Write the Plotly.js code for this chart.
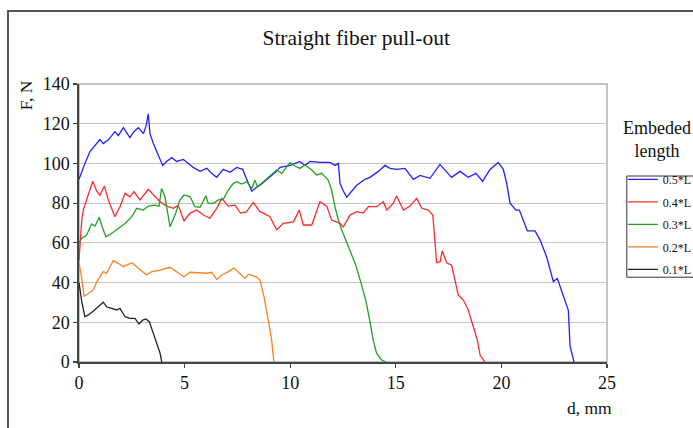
<!DOCTYPE html>
<html>
<head>
<meta charset="utf-8">
<script src="https://cdn.plot.ly/plotly-3.0.1.min.js"></script>
<style>html,body{margin:0;padding:0;background:#fff;}#chart{width:693px;height:428px;}</style>
</head>
<body>
<div id="chart"></div>
<script>
// Data (d in mm, F in N)
const seriesNames = ["0.5*L", "0.4*L", "0.3*L", "0.2*L", "0.1*L"];

const blueX = [0, 0.1, 0.28, 0.52, 0.75, 0.99, 1.15, 1.4, 1.7, 1.86, 2.1, 2.41, 2.6, 2.81, 3.05, 3.18, 3.28, 3.36, 3.52, 3.75, 3.96, 4.15, 4.39, 4.62, 4.94, 5.18, 5.41, 5.73, 6.05, 6.28, 6.52, 6.83, 7.15, 7.47, 7.75, 7.94, 8.18, 8.41, 8.57, 8.8, 9.04, 9.3, 9.52, 10, 10.46, 10.7, 10.94, 11.41, 11.88, 12.12, 12.28, 12.36, 12.52, 12.68, 12.83, 13.15, 13.54, 13.78, 14.17, 14.49, 14.73, 15.04, 15.44, 15.83, 16.15, 16.62, 17.09, 17.64, 18.04, 18.43, 18.8, 19.11, 19.46, 19.85, 20.09, 20.25, 20.41, 20.69, 20.85, 21.23, 21.59, 21.83, 22.14, 22.46, 22.65, 22.93, 23.17, 23.25, 23.44];
const blueF = [92, 95, 100, 106, 109, 112, 110, 112, 116, 114, 118, 113, 116, 118, 115, 119, 125, 115, 110, 104, 99, 101, 103, 101, 102, 100, 98, 96, 97.5, 95, 93, 97, 95.5, 98, 97, 92, 86, 88, 89, 91, 93, 95.5, 98, 99, 101, 99, 101, 100.5, 100.5, 99, 100, 90, 86, 83, 85, 89, 92, 93, 96, 99, 97.5, 97, 97.5, 92, 94, 92.5, 99.5, 93, 96, 93, 95, 91, 97, 100.5, 97, 90, 80, 76.5, 76.5, 66, 66, 61.5, 53, 40.5, 42, 33, 26, 8, 0];

const redX = [0, 0.05, 0.13, 0.2, 0.36, 0.44, 0.65, 0.84, 0.99, 1.2, 1.39, 1.7, 1.94, 2.18, 2.41, 2.6, 2.89, 3.28, 3.6, 3.84, 4.15, 4.47, 4.7, 4.97, 5.26, 5.57, 5.89, 6.2, 6.52, 6.76, 7.07, 7.39, 7.65, 7.94, 8.25, 8.57, 8.73, 9.04, 9.36, 9.67, 10.15, 10.43, 10.62, 11.02, 11.41, 11.73, 11.96, 12.36, 12.51, 12.83, 13.15, 13.46, 13.7, 14.09, 14.41, 14.57, 14.88, 15.04, 15.36, 15.67, 15.99, 16.23, 16.54, 16.75, 16.86, 16.93, 17.1, 17.2, 17.41, 17.64, 17.96, 18.2, 18.43, 18.67, 18.86, 18.99, 19.22];
const redF = [51, 60, 71.5, 76.5, 82, 85, 91, 86, 84, 88.6, 81.6, 73.2, 78.2, 85, 83.2, 85.8, 81.6, 87, 83.2, 80.7, 78.5, 77.4, 79, 71, 75, 76.5, 74, 72.4, 77.4, 82.4, 78.5, 79, 75, 75.7, 80.4, 75.7, 75, 73.2, 66.5, 69.8, 70.6, 76.5, 69, 69, 80.7, 78.5, 71.5, 69.8, 68, 74, 75.7, 75, 78.2, 78.2, 80.7, 76.5, 80, 83.6, 76.5, 78.5, 82.4, 77.4, 76.5, 74, 60, 50, 50.5, 56, 50, 48.8, 33.7, 31.2, 26.2, 17.8, 11.1, 3.5, 0];

const greenX = [0, 0.13, 0.36, 0.6, 0.76, 0.96, 1.12, 1.28, 1.55, 1.86, 2.18, 2.5, 2.73, 3.05, 3.28, 3.6, 3.79, 3.91, 4.07, 4.31, 4.55, 4.78, 4.97, 5.26, 5.49, 5.73, 6.01, 6.12, 6.36, 6.6, 6.83, 7.07, 7.31, 7.47, 7.7, 7.94, 8.18, 8.33, 8.45, 8.73, 9.04, 9.36, 9.6, 9.99, 10.23, 10.46, 10.7, 11.02, 11.25, 11.49, 11.8, 11.96, 12.12, 12.28, 12.44, 12.68, 12.91, 13.1, 13.35, 13.6, 13.8, 13.93, 14.09, 14.33, 14.54];
const greenF = [60, 62.3, 63.9, 69.5, 68.5, 72.9, 67.3, 63.1, 64.8, 67.3, 69.8, 73.2, 77.4, 76.5, 78.5, 79, 78.5, 87.4, 83.2, 68.1, 74, 81.6, 84.1, 83.2, 78.2, 77.9, 83.7, 79.9, 79.9, 81.6, 81.9, 86.6, 90, 90.8, 89.6, 90.8, 87.4, 91.6, 88.3, 90.8, 93.7, 96.7, 95, 100.4, 98.7, 97.5, 99.2, 96.7, 94.2, 95, 91.6, 86.6, 78.2, 71.5, 66.5, 59.8, 53.9, 49, 40, 30, 19, 11, 4.4, 1, 0];

const orangeX = [0, 0.08, 0.13, 0.24, 0.44, 0.68, 0.84, 1.15, 1.31, 1.62, 1.86, 2.1, 2.26, 2.52, 2.81, 3.2, 3.44, 3.84, 4.31, 4.63, 4.97, 5.26, 5.73, 6.05, 6.28, 6.52, 6.76, 6.99, 7.34, 7.62, 7.86, 8.02, 8.41, 8.57, 8.76, 8.96, 9.12, 9.23];
const orangeF = [50, 45.5, 42, 33, 34.6, 36.3, 40.4, 45.5, 44.7, 51, 49.7, 48, 48.8, 50, 47.2, 43.8, 45.5, 46.3, 47.7, 45.5, 42.9, 45.2, 45, 44.7, 45.2, 41.6, 43.8, 45, 47.3, 44.7, 42.1, 44.2, 42.9, 41.3, 32.9, 21.1, 11.1, 0];

const blackX = [0, 0.05, 0.13, 0.28, 0.44, 0.68, 0.91, 1.15, 1.31, 1.55, 1.78, 1.94, 2.18, 2.41, 2.65, 2.84, 3.02, 3.17, 3.33, 3.49, 3.68, 3.84, 3.92];
const blackF = [40, 36, 30.4, 22.8, 23.7, 25.7, 27.8, 30.1, 27.8, 27, 26.2, 27, 22.8, 22, 22, 19.1, 21.1, 21.7, 20.3, 15.3, 9.4, 4.4, 0];

const xs = [blueX, redX, greenX, orangeX, blackX];
const ys = [blueF, redF, greenF, orangeF, blackF];
const colors = ["#2020ff", "#ff2a2a", "#22a022", "#ff7f1e", "#222222"];

const serif = "Liberation Serif, Times New Roman, serif";

const traces = seriesNames.map((n, i) => ({
  type: "scatter", mode: "lines", name: n,
  x: xs[i], y: ys[i],
  legendgroup: "g" + i,
  line: {color: colors[i], width: 1.3}
}));

const layout = {
  width: 693, height: 428,
  margin: {l: 79, r: 86, t: 84, b: 66, autoexpand: false},
  paper_bgcolor: "#fff", plot_bgcolor: "#fff",
  font: {family: serif, color: "#111", size: 18},
  title: {text: "Straight fiber pull-out", font: {family: serif, size: 21.5, color: "#111"},
          x: 0.514, xref: "container", xanchor: "center", y: 0.913, yref: "container", yanchor: "middle"},
  xaxis: {range: [0, 25], dtick: 5, tick0: 0, showgrid: false, zeroline: false,
          showline: true, linecolor: "#444", linewidth: 1.6,
          ticks: "outside", ticklen: 4, tickcolor: "#444", tickwidth: 1.2,
          tickfont: {family: serif, size: 18, color: "#111"}},
  yaxis: {range: [0, 140], dtick: 20, tick0: 0, showgrid: true, gridcolor: "#c4c4c4", gridwidth: 1.2,
          zeroline: false, showline: true, linecolor: "#444", linewidth: 1.6,
          ticks: "outside", ticklen: 4, tickcolor: "#444", tickwidth: 1.2,
          tickfont: {family: serif, size: 18, color: "#111"}},
  showlegend: true,
  legend: {x: 1.03, xanchor: "left", y: 0.709, yanchor: "top",
           bgcolor: "rgba(0,0,0,0)", borderwidth: 0,
           font: {family: serif, size: 12, color: "#111"},
           tracegroupgap: 3.5, itemwidth: 30},
  shapes: [
    {type: "rect", xref: "paper", yref: "paper", x0: -0.1345, x1: 1.6, y0: -0.6, y1: 1.2626,
     line: {color: "#555", width: 2}, fillcolor: "rgba(0,0,0,0)", layer: "below"},
    {type: "rect", xref: "paper", yref: "paper", x0: 0, x1: 1, y0: 0, y1: 1,
     line: {color: "#b0b0b0", width: 1.5}, fillcolor: "rgba(0,0,0,0)", layer: "below"},
    {type: "rect", xref: "paper", yref: "paper", x0: 1.0375, x1: 1.4, y0: 0.305, y1: 0.669,
     line: {color: "#333", width: 1}, fillcolor: "rgba(0,0,0,0)", layer: "below"}
  ],
  annotations: [
    {text: "F, N", xref: "paper", yref: "paper", x: -0.1, y: 0.96, textangle: -90,
     showarrow: false, xanchor: "center", yanchor: "middle", font: {family: serif, size: 17.5, color: "#111"}},
    {text: "d, mm", xref: "paper", yref: "paper", x: 0.967, y: -0.165,
     showarrow: false, xanchor: "center", yanchor: "middle", font: {family: serif, size: 17.5, color: "#111"}},
    {text: "Embeded<br>length", xref: "paper", yref: "paper", x: 1.095, y: 0.8,
     showarrow: false, xanchor: "center", yanchor: "middle", font: {family: serif, size: 18, color: "#111"}}
  ]
};

Plotly.newPlot("chart", traces, layout, {displayModeBar: false, staticPlot: true});
</script>
</body>
</html>
